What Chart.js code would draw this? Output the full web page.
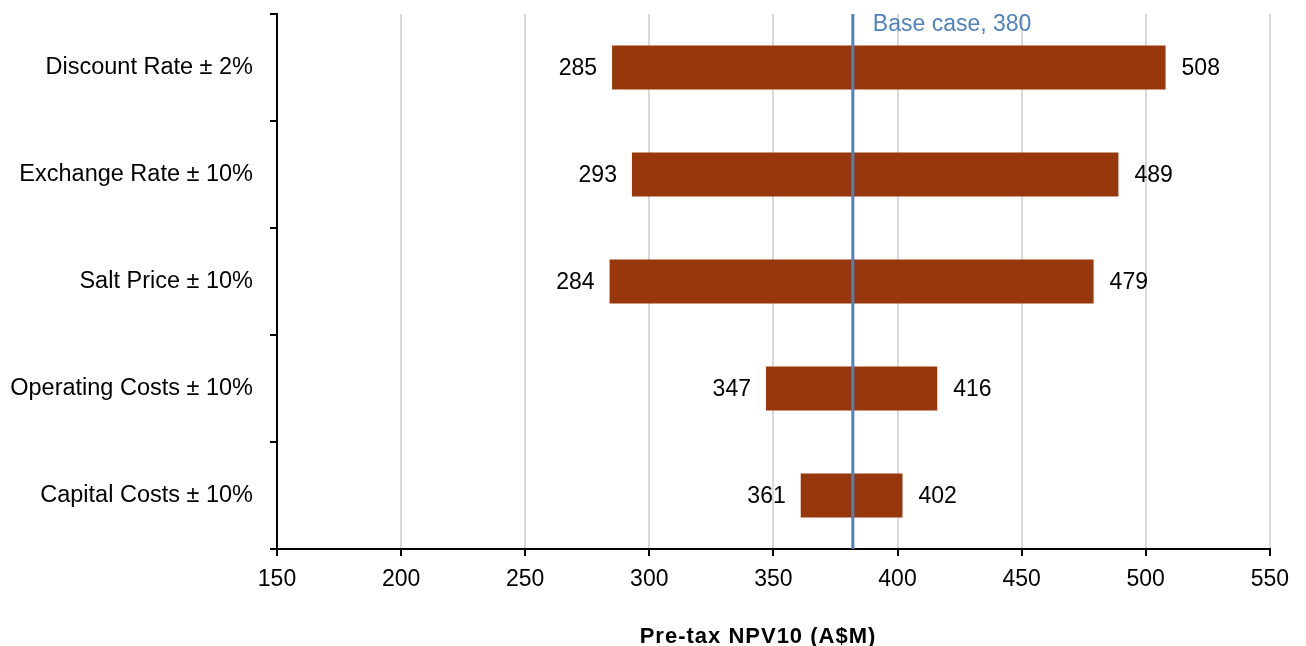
<!DOCTYPE html>
<html lang="en">
<head>
  <meta charset="UTF-8">
  <title>Pre-tax NPV10 sensitivity</title>
  <script src="https://cdn.jsdelivr.net/npm/chart.js"></script>
  <style>
    body { margin: 0; background: #fff; }
    #wrap { width: 1306px; height: 646px; }
  </style>
</head>
<body>
  <div id="wrap">
    <canvas id="tornado" width="1306" height="646"></canvas>
  </div>

  <script>
    // data
    const categories = ["Discount Rate ± 2%", "Exchange Rate ± 10%", "Salt Price ± 10%", "Operating Costs ± 10%", "Capital Costs ± 10%"];
    const lowValues = [285, 293, 284, 347, 361];
    const highValues = [508, 489, 479, 416, 402];
    const xTicks = [150, 200, 250, 300, 350, 400, 450, 500, 550];
    const baseValue = 382;
    const baseLabel = "Base case, 380";
    const axisTitle = "Pre-tax NPV10 (A$M)";

    const font = "'Liberation Sans', Arial, sans-serif";

    // value labels either side of each bar, base case line, axis title
    const tornadoExtras = {
      id: "tornadoExtras",
      afterDatasetsDraw(chart) {
        const ctx = chart.ctx;
        const x = chart.scales.x;
        const y = chart.scales.y;
        const area = chart.chartArea;

        ctx.save();
        ctx.font = "23px " + font;
        ctx.fillStyle = "#000";
        ctx.textBaseline = "middle";
        categories.forEach((c, i) => {
          const yc = y.getPixelForValue(i) + 1;
          ctx.textAlign = "right";
          ctx.fillText(String(lowValues[i]), x.getPixelForValue(lowValues[i]) - 15, yc);
          ctx.textAlign = "left";
          ctx.fillText(String(highValues[i]), x.getPixelForValue(highValues[i]) + 16, yc);
        });

        const bx = x.getPixelForValue(baseValue);
        ctx.strokeStyle = "#4F81BD";
        ctx.lineWidth = 3;
        ctx.beginPath();
        ctx.moveTo(bx, area.top);
        ctx.lineTo(bx, area.bottom);
        ctx.stroke();

        ctx.fillStyle = "#4F81BD";
        ctx.textAlign = "left";
        ctx.textBaseline = "alphabetic";
        ctx.fillText(baseLabel, bx + 20, 31);

        // axis title, sits a little left of the plot centre in the original
        ctx.font = "bold 22px " + font;
        ctx.letterSpacing = "1px";
        ctx.fillStyle = "#000";
        ctx.textAlign = "center";
        ctx.fillText(axisTitle, 758, 643);
        ctx.restore();
      }
    };

    new Chart(document.getElementById("tornado"), {
      type: "bar",
      data: {
        labels: categories,
        datasets: [{
          label: "NPV range",
          data: categories.map((c, i) => [lowValues[i], highValues[i]]),
          backgroundColor: "#98370C",
          borderWidth: 0,
          barPercentage: 0.82,
          categoryPercentage: 0.5
        }]
      },
      options: {
        indexAxis: "y",
        responsive: false,
        animation: false,
        layout: { padding: { left: 0, right: 36, top: 14, bottom: 0 } },
        plugins: {
          legend: { display: false },
          tooltip: { enabled: false }
        },
        scales: {
          x: {
            type: "linear",
            min: 150,
            max: 550,
            afterBuildTicks(axis) {
              axis.ticks = xTicks.map(v => ({ value: v }));
            },
            afterFit(axis) { axis.height = 97; },
            grid: {
              color: "#D9D9D9",
              lineWidth: 2,
              drawTicks: false
            },
            border: { display: true, color: "#000", width: 2 },
            ticks: {
              color: "#000",
              font: { family: font, size: 23 },
              padding: 17
            }
          },
          y: {
            afterFit(axis) {
              axis.width = 277;
              axis.paddingTop = 0;
              axis.paddingBottom = 0;
            },
            grid: {
              offset: true,
              drawOnChartArea: false,
              color: "#000",
              lineWidth: 2,
              tickLength: 7
            },
            border: { display: true, color: "#000", width: 2 },
            ticks: {
              color: "#000",
              font: { family: font, size: 23.5 },
              padding: 17
            }
          }
        }
      },
      plugins: [
        tornadoExtras,
        {
          // small tick marks below the x axis
          id: "xTickMarks",
          afterDraw(chart) {
            const ctx = chart.ctx;
            const x = chart.scales.x;
            const bottom = chart.chartArea.bottom;
            ctx.save();
            ctx.strokeStyle = "#000";
            ctx.lineWidth = 2;
            xTicks.forEach(v => {
              const px = Math.round(x.getPixelForValue(v));
              ctx.beginPath();
              ctx.moveTo(px, bottom);
              ctx.lineTo(px, bottom + 7);
              ctx.stroke();
            });
            ctx.restore();
          }
        }
      ]
    });
  </script>
</body>
</html>
